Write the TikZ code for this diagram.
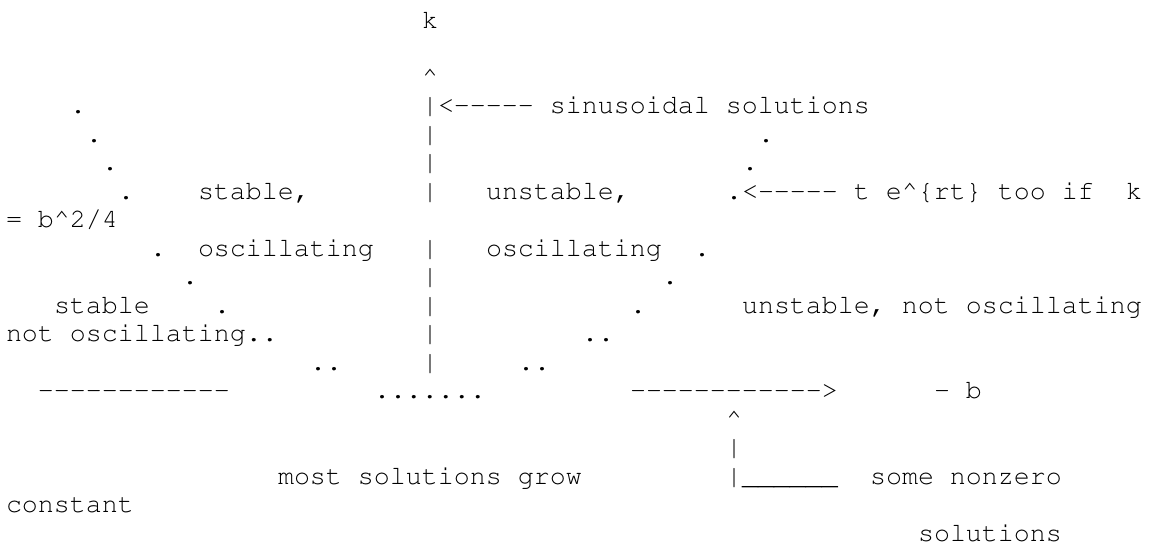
\documentclass[tikz,border=0pt]{standalone}
\usepackage[T1]{fontenc}
\usepackage{courier}

\newcommand\dashrun[1]{\foreach \i in {1,...,#1}{-{}}}

\begin{document}
\begin{tikzpicture}[
    x=8pt, y=14.25pt,
    txt/.style={anchor=base west, inner sep=0pt, outer sep=0pt, font=\ttfamily\fontsize{13.33pt}{14.25pt}\selectfont}
]
\useasboundingbox (-3pt,14pt) rectangle (572.5pt,-259.5pt);

\node[txt] (kname) at (26,0) {k};
\node[txt] (kup) at (26,-2) {\textasciicircum};
\node[txt] (sinus) at (26,-3) {|<\dashrun{5} sinusoidal solutions};
\foreach \r in {4,5,6,8,9,10,11,12}
    \node[txt] (ax\r) at (26,-\r) {|};

\foreach \r/\c in {3/4,4/5,5/6,6/7,8/9,9/11,10/13}
    \node[txt] (pl\r) at (\c,-\r) {.};
\foreach \r/\c in {4/47,5/46,8/43,9/41,10/39}
    \node[txt] (pr\r) at (\c,-\r) {.};
\node[txt] (pl12) at (19,-12) {..};
\node[txt] (pr11) at (36,-11) {..};
\node[txt] (pr12) at (32,-12) {..};

\node[txt] (stabosc) at (12,-6) {stable,};
\node[txt] (stabosc2) at (12,-8) {oscillating};
\node[txt] (unstosc) at (30,-6) {unstable,};
\node[txt] (unstosc2) at (30,-8) {oscillating};
\node[txt] (terat) at (45,-6) {.<\dashrun{5} t e\textasciicircum\{rt\} too if};
\node[txt] (kcond) at (70,-6) {k};
\node[txt] (kcond2) at (0,-7) {= b\textasciicircum 2/4};
\node[txt] (stabnot) at (3,-10) {stable};
\node[txt] (stabnot2) at (0,-11) {not oscillating..};
\node[txt] (unstnot) at (46,-10) {unstable, not oscillating};

\node[txt] (bleft) at (2,-13) {\dashrun{12}};
\node[txt] (bmid) at (23,-13) {.......};
\node[txt] (bright) at (39,-13) {\dashrun{12}>};
\node[txt] (bname) at (58,-13) {- b};

\node[txt] (cup) at (45,-14) {\textasciicircum};
\node[txt] (cbar) at (45,-15) {|};
\node[txt] (cfoot) at (45,-16) {|\_\_\_\_\_\_};
\node[txt] (grow) at (17,-16) {most solutions grow};
\node[txt] (const) at (54,-16) {some nonzero};
\node[txt] (const2) at (0,-17) {constant};
\node[txt] (const3) at (57,-18) {solutions};

\end{tikzpicture}
\end{document}
